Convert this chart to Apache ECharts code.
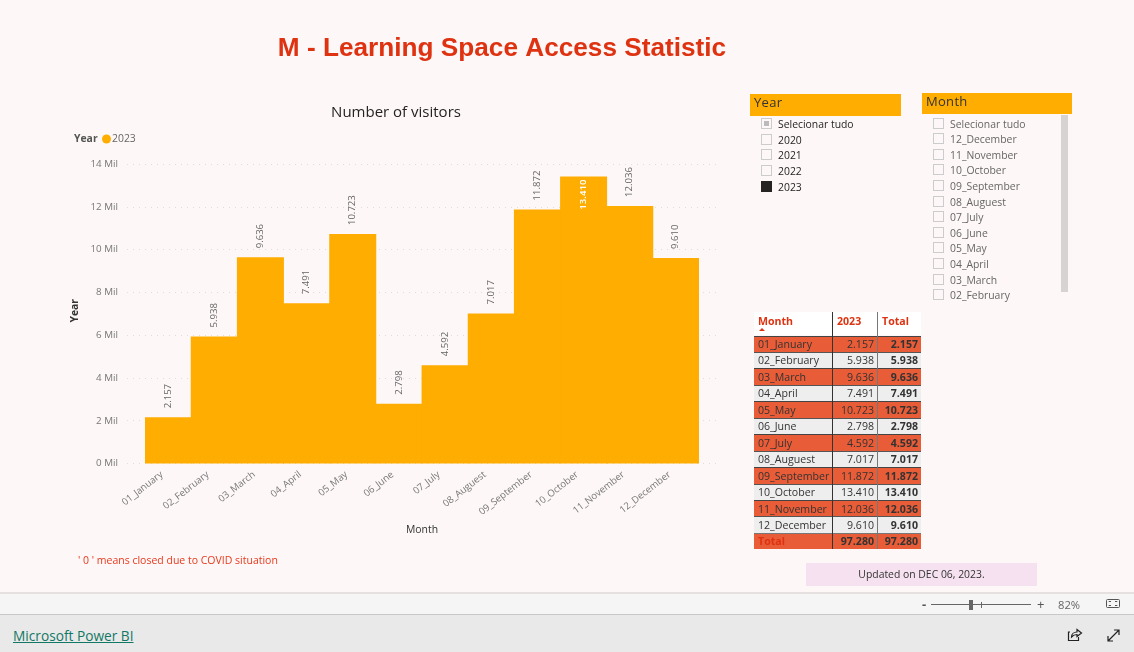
<!DOCTYPE html>
<html><head><meta charset="utf-8">
<script src="https://cdn.jsdelivr.net/npm/echarts@6/dist/echarts.min.js"></script>
<style>
html,body{margin:0;padding:0;width:1134px;height:652px;overflow:hidden;background:#FDF7F7;font-family:"Open Sans","Noto Sans",sans-serif}
.a{position:absolute;white-space:nowrap}
#chart{position:absolute;left:0;top:0;width:1134px;height:592px}
.hd{background:#FFAD00;color:#333;font-size:13px;line-height:17px;padding-left:4px;box-sizing:border-box;letter-spacing:.3px}
.cb{position:absolute;width:9px;height:9px;border:1px solid #ccc;box-sizing:content-box}
.sl{position:absolute;font-size:10.4px;line-height:14px;white-space:nowrap}
.tb{position:absolute;font-size:10.6px;line-height:14px;white-space:nowrap;color:#333}
</style></head><body>
<div id="chart"></div>
<div id="ui"></div>
<script>
const months = ['01_January','02_February','03_March','04_April','05_May','06_June','07_July','08_Auguest','09_September','10_October','11_November','12_December'];
const visitors2023 = [2157,5938,9636,7491,10723,2798,4592,7017,11872,13410,12036,9610];
const visitorsTotal = [2157,5938,9636,7491,10723,2798,4592,7017,11872,13410,12036,9610];
const grandTotal = 97280;
const yearOptions = ['Selecionar tudo','2020','2021','2022','2023'];
const monthOptions = ['Selecionar tudo','12_December','11_November','10_October','09_September','08_Auguest','07_July','06_June','05_May','04_April','03_March','02_February'];
const fmt = v => String(v).replace(/\B(?=(\d{3})+$)/g,'.');
const FONT = '"Open Sans","Noto Sans",sans-serif';

const chart = echarts.init(document.getElementById('chart'),null,{renderer:'canvas'});
chart.setOption({
  backgroundColor:'transparent',
  animation:false,
  textStyle:{fontFamily:FONT},
  title:[
    {text:'M - Learning Space Access Statistic',left:497,top:31,textAlign:'center',
     textStyle:{fontFamily:'"Liberation Sans",Arial,sans-serif',fontSize:26.2,fontWeight:'bold',color:'#DE3210'}},
    {text:'Number of visitors',left:391,top:100,textAlign:'center',
     textStyle:{fontFamily:FONT,fontSize:15,fontWeight:500,color:'#252423'}}
  ],
  legend:{left:97,top:129,itemWidth:9,itemHeight:9,itemGap:2,icon:'circle',data:['2023'],
    textStyle:{fontFamily:FONT,fontSize:10.4,color:'#666',padding:[0,0,0,-4]}},
  grid:[
    {left:127,width:589,top:164,height:299.5},
    {left:145,width:554,top:164,height:299.5}
  ],
  xAxis:[
    {type:'value',gridIndex:0,min:0,max:1,show:false},
    {type:'category',gridIndex:1,data:months,axisLine:{show:false},axisTick:{show:false},
     name:'Month',nameLocation:'middle',nameGap:62,
     nameTextStyle:{fontFamily:FONT,fontSize:10.4,fontWeight:500,color:'#333'},
     axisLabel:{interval:0,rotate:38,fontSize:9.6,color:'#777',margin:5,padding:[0,8,0,0],fontFamily:FONT}}
  ],
  yAxis:[
    {type:'value',gridIndex:0,min:0,max:14000,interval:2000,
     axisLine:{show:false},axisTick:{show:false},
     name:'Year',nameLocation:'middle',nameGap:32,
     nameTextStyle:{fontFamily:FONT,fontSize:10.4,fontWeight:'bold',color:'#333',padding:[0,0,0,6]},
     axisLabel:{fontSize:9.8,color:'#777',margin:9,formatter:v=>(v/1000)+' Mil'},
     splitLine:{show:true,lineStyle:{color:'#E0DCDC',type:[1,5],width:1}}},
    {type:'value',gridIndex:1,min:0,max:14000,interval:2000,show:false}
  ],
  series:[{
    name:'2023',type:'bar',xAxisIndex:1,yAxisIndex:1,barWidth:47,
    itemStyle:{color:'#FFAD00'},
    label:{show:true,position:'top',rotate:90,align:'left',verticalAlign:'middle',distance:9,
      fontSize:9.6,color:'#666',fontFamily:FONT,formatter:p=>fmt(p.value)},
    data:visitors2023.map(v=>v===Math.max(...visitors2023)
      ?{value:v,label:{position:'insideTop',align:'right',distance:3,color:'#fff',fontWeight:600}}
      :v)
  }],
  graphic:[
    {type:'text',left:74,top:134,style:{text:'Year',font:'bold 10.4px '+FONT,fill:'#555'}},
    {type:'text',left:78,top:556,style:{text:"' 0 ' means closed due to COVID situation",font:'10.5px '+FONT,fill:'#E8391C'}}
  ]
});

const ui = document.getElementById('ui');
let h = '';
const box = (l,t,w,ht,s,inner='',cls='a') => `<div class="${cls}" style="left:${l}px;top:${t}px;width:${w}px;height:${ht}px;${s}">${inner}</div>`;
// slicers
h += box(750,94,151,21.5,'', 'Year','a hd');
h += box(922,93,150,21,'', 'Month','a hd');
const yearY=[124,140,155,171,187];
yearOptions.forEach((t,i)=>{
  const last=i===4, first=i===0;
  h+=`<div class="cb" style="left:761px;top:${yearY[i]-6}px;${last?'background:#252423;border-color:#252423':''}">${first?'<div style="position:absolute;left:2px;top:2px;width:5px;height:5px;background:#bbb"></div>':''}</div>`;
  h+=`<div class="sl" style="left:778px;top:${yearY[i]-7}px;color:#252423">${t}</div>`;
});
const monthY=[124,139,155,170,186,202,217,233,248,264,280,295];
monthOptions.forEach((t,i)=>{
  h+=`<div class="cb" style="left:933px;top:${monthY[i]-6}px"></div>`;
  h+=`<div class="sl" style="left:950px;top:${monthY[i]-7}px;color:#666">${t}</div>`;
});
h+=box(1061,115,7,177,'background:#D6D3D2');
// table
const X0=754,X1=832,X2=877,X3=921;
h+=box(X0,312,X3-X0,23,'background:#fff');
const RED='#E85C37', GREY='#EEEEEE';
const top0=335.5,rh=16.45;
h+=`<div class="tb" style="left:758px;top:314px;color:#DE3210;font-weight:bold">Month</div>`;
h+=`<div class="tb" style="left:837px;top:314px;color:#DE3210;font-weight:bold">2023</div>`;
h+=`<div class="tb" style="left:882px;top:314px;color:#DE3210;font-weight:bold">Total</div>`;
h+=`<div class="a" style="left:759px;top:328px;width:0;height:0;border-left:3.5px solid transparent;border-right:3.5px solid transparent;border-bottom:3.5px solid #DE3210"></div>`;
months.forEach((m,i)=>{
  const y=top0+i*rh, c=i%2?GREY:RED;
  h+=box(X0,y,X3-X0,rh,`background:${c};border-top:1px solid ${i%2?'#555':'#444'};box-sizing:border-box`);
  h+=`<div class="tb" style="left:758px;top:${y+1.5}px">${m}</div>`;
  h+=`<div class="tb" style="right:${1134-X2+3}px;top:${y+1.5}px">${fmt(visitors2023[i])}</div>`;
  h+=`<div class="tb" style="right:${1134-X3+3}px;top:${y+1.5}px;font-weight:bold">${fmt(visitorsTotal[i])}</div>`;
});
const yT=top0+12*rh;
h+=box(X0,yT,X3-X0,549-yT,`background:${RED};border-top:1px solid #777;box-sizing:border-box`);
h+=`<div class="tb" style="left:758px;top:${yT+1.5}px;color:#DE3210;font-weight:bold">Total</div>`;
h+=`<div class="tb" style="right:${1134-X2+3}px;top:${yT+1.5}px;font-weight:bold">${fmt(grandTotal)}</div>`;
h+=`<div class="tb" style="right:${1134-X3+3}px;top:${yT+1.5}px;font-weight:bold">${fmt(grandTotal)}</div>`;
h+=box(X1,312,1,237,'background:#333');
h+=box(X2,312,1,237,'background:#777');
// updated note
h+=box(806,563,231,23,'background:#F5E1EF;text-align:center;font-size:10.4px;line-height:23px;color:#333','Updated on DEC 06, 2023.');
// bottom bars
h+=box(0,592,1134,23,'background:#F5F5F5;border-top:2px solid #E6E1E0;border-bottom:1px solid #C8C8C8;box-sizing:border-box');
h+=box(0,615,1134,37,'background:#E9E9E9');
h+=`<div class="a" style="left:13px;top:627px;font-size:13.7px;line-height:18px;color:#117865;text-decoration:underline">Microsoft Power BI</div>`;
h+=`<div class="a" style="left:922px;top:596px;font-size:13px;line-height:16px;color:#555;font-weight:bold">-</div>`;
h+=box(931,604,100,1,'background:#666');
h+=box(969,600,4,10,'background:#666');
h+=box(981,601.5,1,6,'background:#666');
h+=`<div class="a" style="left:1037px;top:596px;font-size:13px;line-height:16px;color:#555">+</div>`;
h+=`<div class="a" style="left:1058px;top:597px;font-size:11.2px;line-height:15px;color:#666">82%</div>`;
h+=`<svg class="a" style="left:1104px;top:597px" width="18" height="14" fill="none" stroke="#555"><rect x="2.5" y="2.5" width="13" height="8" rx="1"/><path d="M5 5V4.5h2M13 5V4.5h-2M5 8v.5h2M13 8v.5h-2" stroke-width="1"/></svg>`;
h+=`<svg class="a" style="left:1066px;top:627px" width="18" height="16" fill="none" stroke="#222" stroke-width="1.2"><path d="M4 5H2.5v8.5h10V10"/><path d="M5.5 10c0-3 2.5-5 5.5-5V2.5L15.5 6 11 9.5V7.5c-2 0-4 .8-5.5 2.5z"/></svg>`;
h+=`<svg class="a" style="left:1106px;top:628px" width="15" height="15" fill="none" stroke="#222" stroke-width="1.2"><path d="M2 13L13 2M8 2h5v5M2 8v5h5"/></svg>`;
ui.innerHTML=h;
</script>
</body></html>
